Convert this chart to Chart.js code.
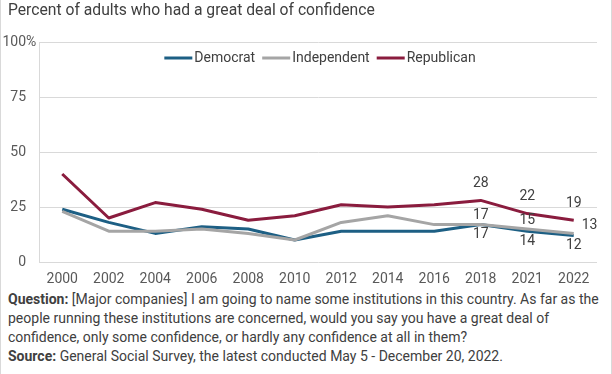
<!DOCTYPE html>
<html><head><meta charset="utf-8">
<script src="https://cdn.jsdelivr.net/npm/chart.js@4"></script>
<style>
html,body{margin:0;padding:0;background:#fff;}
#wrap{position:relative;width:612px;height:374px;overflow:hidden;font-family:Roboto,sans-serif;background:#fff;}
#title{position:absolute;left:8px;top:0;font-size:15.7px;line-height:20px;color:#404040;white-space:nowrap;}
#cv{position:absolute;left:0;top:0;}
#foot{position:absolute;left:8px;top:290px;font-size:14px;line-height:19px;color:#404040;white-space:nowrap;}
.bl{position:absolute;top:0;width:1px;height:374px;background:#d9d9d9;}
</style></head>
<body>
<div id="wrap">
  <canvas id="cv" width="612" height="290"></canvas>
  <div id="title">Percent of adults who had a great deal of confidence</div>
  <div id="foot"><b>Question:</b> [Major companies] I am going to name some institutions in this country. As far as the<br>people running these institutions are concerned, would you say you have a great deal of<br>confidence, only some confidence, or hardly any confidence at all in them?<br><b>Source:</b> General Social Survey, the latest conducted May 5 - December 20, 2022.</div>
  <div class="bl" style="left:0"></div>
  <div class="bl" style="left:611px"></div>
</div>
<script>
const years = ['2000','2002','2004','2006','2008','2010','2012','2014','2016','2018','2021','2022'];
const democrat    = [24, 18, 13, 16, 15, 10, 14, 14, 14, 17, 14, 12];
const independent = [23, 14, 14, 15, 13, 10, 18, 21, 17, 17, 15, 13];
const republican  = [40, 20, 27, 24, 19, 21, 26, 25, 26, 28, 22, 19];
const seriesNames = ['Democrat', 'Independent', 'Republican'];
const yTicks = [0, 25, 50, 75, 100];
const labeledYears = ['2018', '2021', '2022'];

const colors = ['#1d5f84', '#a5a5a5', '#8a1c3e'];
const textColor = '#404040';
const tickColor = '#595959';
const gridColor = '#d9d9d9';

// label placement per series (style only)
const labelOffsets = [
  {dx: 0, dy: 10},   // Democrat below
  {dx: 0, dy: -9},   // Independent above
  {dx: 0, dy: -17}   // Republican above
];

const legendPlugin = {
  id: 'customLegend',
  afterDatasetsDraw(chart) {
    const ctx = chart.ctx;
    const area = chart.chartArea;
    ctx.save();
    ctx.font = '14px Roboto, sans-serif';
    ctx.textBaseline = 'middle';
    ctx.textAlign = 'left';
    const lineW = 28, gap = 2, spacing = 7;
    const items = chart.data.datasets.map(d => ({label: d.label, color: d.borderColor, w: lineW + gap + ctx.measureText(d.label).width}));
    const total = items.reduce((s, it) => s + it.w, 0) + spacing * (items.length - 1);
    let x = (area.left + area.right) / 2 - total / 2 + 2;
    const y = 58;
    items.forEach(it => {
      ctx.strokeStyle = it.color;
      ctx.lineWidth = 3;
      ctx.beginPath();
      ctx.moveTo(x, y);
      ctx.lineTo(x + lineW, y);
      ctx.stroke();
      ctx.fillStyle = textColor;
      ctx.fillText(it.label, x + lineW + gap, y);
      x += it.w + spacing;
    });
    ctx.restore();
  }
};

const dataLabelPlugin = {
  id: 'dataLabels',
  afterDatasetsDraw(chart) {
    const ctx = chart.ctx;
    ctx.save();
    ctx.font = '14px Roboto, sans-serif';
    ctx.fillStyle = textColor;
    ctx.textBaseline = 'middle';
    chart.data.datasets.forEach((ds, di) => {
      const meta = chart.getDatasetMeta(di);
      chart.data.labels.forEach((lab, i) => {
        if (!labeledYears.includes(lab)) return;
        const pt = meta.data[i];
        let off = labelOffsets[di];
        ctx.textAlign = 'center';
        if (di === 1 && lab === '2022') { off = {dx: 8, dy: -8}; ctx.textAlign = 'left'; }
        ctx.fillText(String(ds.data[i]), pt.x + off.dx, pt.y + off.dy);
      });
    });
    ctx.restore();
  }
};

const percentPlugin = {
  id: 'percentTop',
  afterDraw(chart) {
    const s = chart.scales.y;
    const ctx = chart.ctx;
    ctx.save();
    ctx.font = '14px Roboto, sans-serif';
    ctx.fillStyle = tickColor;
    ctx.textAlign = 'left';
    ctx.textBaseline = 'middle';
    const maxV = yTicks[yTicks.length - 1];
    ctx.fillText('%', s.right - 13, s.getPixelForValue(maxV));
    ctx.restore();
  }
};

new Chart(document.getElementById('cv'), {
  type: 'line',
  data: {
    labels: years,
    datasets: [
      {label: seriesNames[0], data: democrat, borderColor: colors[0], backgroundColor: colors[0], order: 2},
      {label: seriesNames[1], data: independent, borderColor: colors[1], backgroundColor: colors[1], order: 1},
      {label: seriesNames[2], data: republican, borderColor: colors[2], backgroundColor: colors[2], order: 0}
    ]
  },
  options: {
    responsive: false,
    animation: false,
    devicePixelRatio: 1,
    layout: {padding: {top: 42, right: 15, left: 0, bottom: 0}},
    elements: {
      line: {borderWidth: 3, tension: 0, borderCapStyle: 'butt', borderJoinStyle: 'round'},
      point: {radius: 0, hoverRadius: 0}
    },
    plugins: {legend: {display: false}, tooltip: {enabled: false}, title: {display: false}},
    scales: {
      x: {
        type: 'category',
        offset: true,
        grid: {display: false, drawTicks: false},
        border: {display: false},
        ticks: {color: tickColor, font: {family: 'Roboto', size: 14}, padding: 9, maxRotation: 0, autoSkip: false},
        afterFit(s) { s.height = 28; }
      },
      y: {
        min: yTicks[0],
        max: yTicks[yTicks.length - 1],
        afterBuildTicks(s) { s.ticks = yTicks.map(v => ({value: v})); },
        grid: {color: gridColor, lineWidth: 1, drawTicks: false},
        border: {display: true, color: gridColor, width: 1},
        ticks: {color: tickColor, font: {family: 'Roboto', size: 14}, padding: 13, callback: v => String(v)},
        afterFit(s) { s.width = 39; }
      }
    }
  },
  plugins: [legendPlugin, dataLabelPlugin, percentPlugin]
});
</script>
</body></html>
